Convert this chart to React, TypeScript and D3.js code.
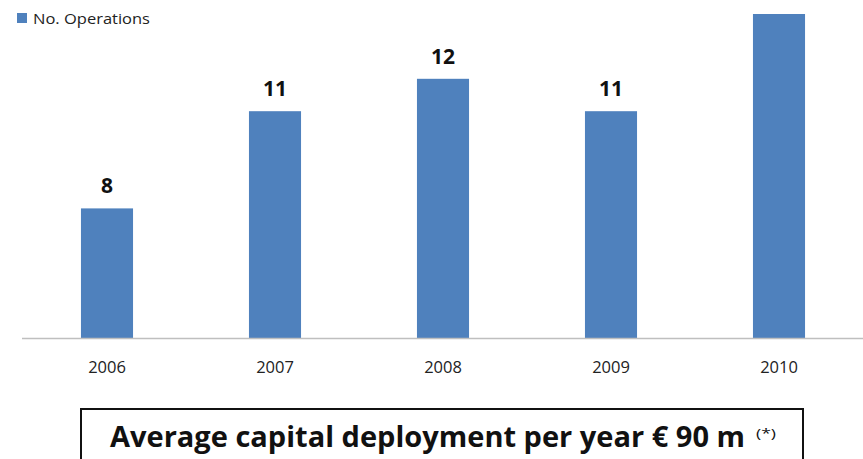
import React from "react";
import * as d3 from "d3";

const years = ["2006", "2007", "2008", "2009", "2010"];
const operations = [8, 11, 12, 11, 14];
const seriesName = "No. Operations";
const titleText = "Average capital deployment per year € 90 m";
const titleNote = "(*)";

const W = 863;
const H = 459;
const BAR = "#4F81BD";
const FONT = "'Open Sans', 'Liberation Sans', sans-serif";

export default function App() {
  const x = d3
    .scaleBand<string>()
    .domain(years)
    .range([23, 863])
    .paddingInner(0.69)
    .paddingOuter(0.345);
  const y = d3.scaleLinear().domain([4, 14]).range([338, 14]);

  return (
    <svg
      width={W}
      height={H}
      style={{ position: "absolute", left: 0, top: 0, background: "#fff" }}
      fontFamily={FONT}
    >
      <rect x={0} y={0} width={W} height={H} fill="#fff" />
      {/* legend */}
      <rect x={17} y={13} width={10} height={10} fill={BAR} />
      <text x={33} y={23.5} fontSize={15} fill="#222" textLength={117} lengthAdjust="spacingAndGlyphs">
        {seriesName}
      </text>

      {/* bars */}
      {years.map((yr, i) => {
        const labelY = y(operations[i]) - 15;
        return (
          <g key={yr}>
            <rect
              x={x(yr)!}
              y={y(operations[i])}
              width={x.bandwidth()}
              height={y(4) - y(operations[i])}
              fill={BAR}
            />
            {labelY > 16 && (
              <text
                x={x(yr)! + x.bandwidth() / 2}
                y={labelY}
                textAnchor="middle"
                fontSize={21}
                fontWeight={700}
                fill="#111"
              >
                {operations[i]}
              </text>
            )}
            <text
              x={x(yr)! + x.bandwidth() / 2}
              y={373}
              textAnchor="middle"
              fontSize={16.5}
              fill="#222"
            >
              {yr}
            </text>
          </g>
        );
      })}

      {/* axis line */}
      <line x1={22} x2={863} y1={y(4) + 0.5} y2={y(4) + 0.5} stroke="#BFBFBF" strokeWidth={1.5} />

      {/* title box */}
      <rect x={81} y={409} width={722} height={70} fill="none" stroke="#111" strokeWidth={2} />
      <text
        x={110}
        y={446.5}
        fontSize={29}
        fontWeight={700}
        fill="#111"
        textLength={635}
        lengthAdjust="spacingAndGlyphs"
      >
        {titleText}
      </text>
      <text x={756} y={438} fontSize={12} fill="#111" textLength={20} lengthAdjust="spacingAndGlyphs">
        {titleNote}
      </text>
    </svg>
  );
}
